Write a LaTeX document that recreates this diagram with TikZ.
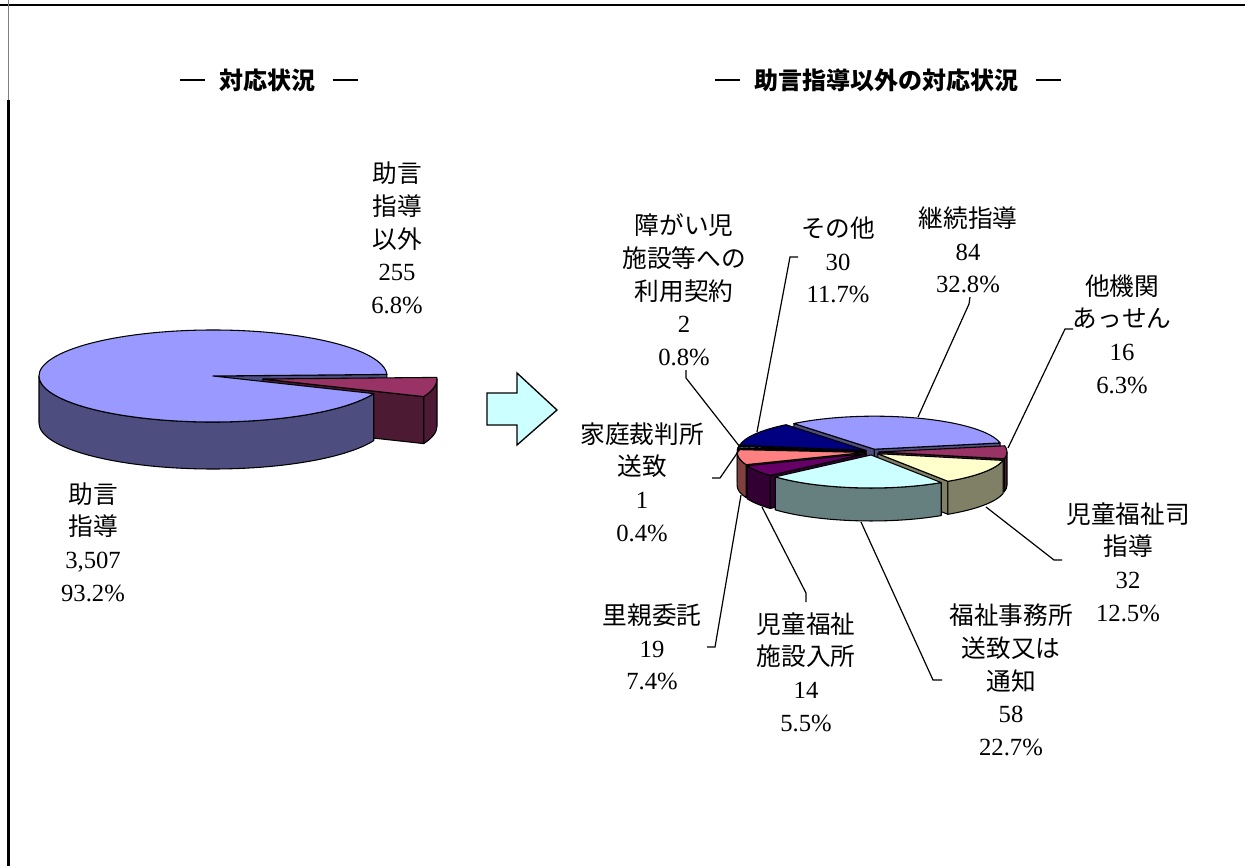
\documentclass[tikz,border=0pt]{standalone}
\usepackage{fontspec}
\setmainfont{Liberation Serif}
\newfontfamily\jp{Noto Sans CJK JP}
\usetikzlibrary{calc}

\definecolor{pieblue}{HTML}{9999FF}   \definecolor{sideblue}{HTML}{4D4D80}
\definecolor{pieplum}{HTML}{993366}   \definecolor{sideplum}{HTML}{4D1A33}
\definecolor{pieyellow}{HTML}{FFFFCC} \definecolor{sideyellow}{HTML}{808066}
\definecolor{piecyan}{HTML}{CCFFFF}   \definecolor{sidecyan}{HTML}{668080}
\definecolor{piepurple}{HTML}{660066} \definecolor{sidepurple}{HTML}{330033}
\definecolor{piesalmon}{HTML}{FF8080} \definecolor{sidesalmon}{HTML}{804040}
\definecolor{pieazure}{HTML}{0066CC}  \definecolor{sideazure}{HTML}{003366}
\definecolor{pielilac}{HTML}{CCCCFF}  \definecolor{sidelilac}{HTML}{666680}
\definecolor{pienavy}{HTML}{000080}   \definecolor{sidenavy}{HTML}{000040}

\newcommand\J[1]{{\jp #1}}
\newcommand\ttlbar{\rule[0.33em]{1.05em}{1.4pt}}
% faces of a 3D pie slice; radii and depth come from \prx, \pry, \pdh
\newcommand\piewall[3]{\filldraw[pie face, fill=#3] (#1) -- ++(xyz polar cs:angle=#2, x radius=\prx, y radius=\pry) -- ++(0,\pdh) -- ($(#1)+(0,\pdh)$) -- cycle;}
\newcommand\pierim[4]{\filldraw[pie face, fill=#4] ($(#1)+(xyz polar cs:angle=#2, x radius=\prx, y radius=\pry)$) arc[start angle=#2, end angle=#3, x radius=\prx, y radius=\pry] -- ++(0,\pdh) arc[start angle=#3, end angle=#2, x radius=\prx, y radius=\pry] -- cycle;}
\newcommand\pietop[4]{\filldraw[pie face, fill=#4] (#1) -- ++(xyz polar cs:angle=#2, x radius=\prx, y radius=\pry) arc[start angle=#2, end angle=#3, x radius=\prx, y radius=\pry] -- cycle;}

\tikzset{
  pie face/.style={draw=black, line width=0.8pt, line join=round},
  lbl/.style={align=center, inner sep=0pt, font=\fontsize{18.5}{24.5}\selectfont},
  heading/.style={inner sep=0pt, font=\jp\bfseries\fontsize{18}{20}\selectfont},
  leader/.style={draw=black, line width=0.9pt},
}

\begin{document}
\begin{tikzpicture}[x=0.75pt, y=-0.75pt]
\useasboundingbox (0,0) rectangle (1245,866);

% frame
\draw[line width=2pt] (0,5) -- (1245,5);
\draw[line width=0.7pt, gray] (8.5,0) -- (8.5,100);
\draw[line width=2pt] (8.5,100) -- (8.5,866);

% headings
\node[heading] (ttlleft) at (269,80) {\ttlbar\hspace{0.6em}対応状況\hspace{0.7em}\ttlbar};
\node[heading] (ttlright) at (888,80) {\ttlbar\hspace{0.6em}助言指導以外の対応状況\hspace{0.7em}\ttlbar};

% left pie
\coordinate (lc) at (213,376);
\coordinate (lm) at ($(lc)+(50,3)$);
\def\prx{174}\def\pry{46}\def\pdh{47}
\piewall{lc}{358}{sideblue}
\piewall{lm}{382.5}{sideplum}
\pierim{lm}{360}{382.5}{sideplum}
\pierim{lc}{22.5}{180}{sideblue}
\pietop{lc}{22.5}{358}{pieblue}
\pietop{lm}{358}{382.5}{pieplum}

\node[lbl] (lother) at (397,238) {\J{助言}\\\J{指導}\\\J{以外}\\255\\6.8\%};
\node[lbl] (lmain) at (93,542) {\J{助言}\\\J{指導}\\3,507\\93.2\%};

% arrow
\filldraw[fill=piecyan, line width=1pt, line join=miter] (487,393) -- (517,393) -- (517,373) -- (557,410)
  -- (517,445) -- (517,425) -- (487,425) -- cycle;

% right pie
\coordinate (rc) at (872,452);
\foreach \n/\m in {1/290.04,2/360.42,3/394.26,4/457.62,5/508.38,6/531.6,7/545.64,8/547.8,9/570.3}
  \coordinate (s\n) at ($(rc)+(xyz polar cs:angle=\m, x radius=7, y radius=3)$);
\def\prx{128}\def\pry{33}\def\pdh{33}
\piewall{s1}{231}{sideblue} \piewall{s1}{349.08}{sideblue} \pietop{s1}{231}{349.08}{pieblue}
\piewall{s9}{549.24}{sidenavy} \pietop{s9}{549.24}{591.36}{pienavy}
\piewall{s8}{546.36}{sidelilac} \pietop{s8}{546.36}{549.24}{pielilac}
\piewall{s7}{544.92}{sideazure} \pietop{s7}{544.92}{546.36}{pieazure}
\piewall{s2}{371.76}{sideplum} \pierim{s2}{360}{371.76}{sideplum} \pietop{s2}{349.08}{371.76}{pieplum}
\piewall{s6}{518.28}{sidesalmon} \pierim{s6}{518.28}{540}{sidesalmon} \pietop{s6}{518.28}{544.92}{piesalmon}
\piewall{s5}{498.48}{sidepurple} \pierim{s5}{498.48}{518.28}{sidepurple} \pietop{s5}{498.48}{518.28}{piepurple}
\piewall{s3}{416.76}{sideyellow} \pierim{s3}{371.76}{416.76}{sideyellow} \pietop{s3}{371.76}{416.76}{pieyellow}
\pierim{s4}{416.76}{498.48}{sidecyan} \pietop{s4}{416.76}{498.48}{piecyan}

% labels
\node[lbl] (lcontract) at (684,290) {\J{障がい児}\\\J{施設等への}\\\J{利用契約}\\2\\0.8\%};
\node[lbl] (lrest) at (838,260) {\J{その他}\\30\\11.7\%};
\node[lbl] (lcont) at (968,250) {\J{継続指導}\\84\\32.8\%};
\node[lbl] (lagency) at (1122,334) {\J{他機関}\\\J{あっせん}\\16\\6.3\%};
\node[lbl] (lcourt) at (642,482) {\J{家庭裁判所}\\\J{送致}\\1\\0.4\%};
\node[lbl] (lguid) at (1128,562) {\J{児童福祉司}\\\J{指導}\\32\\12.5\%};
\node[lbl] (lwelfare) at (1011,680) {\J{福祉事務所}\\\J{送致又は}\\\J{通知}\\58\\22.7\%};
\node[lbl] (lfacility) at (806,672) {\J{児童福祉}\\\J{施設入所}\\14\\5.5\%};
\node[lbl] (lfoster) at (652,647) {\J{里親委託}\\19\\7.4\%};

% leader ends
\coordinate (kcontract) at (686,370); \coordinate (econtract) at (740,447);
\coordinate (krest) at (798,257);     \coordinate (erest) at (757,432);
\coordinate (kcont) at (970,297);     \coordinate (econt) at (918,417);
\coordinate (kagency) at (1073,329);  \coordinate (eagency) at (1008,448);
\coordinate (kcourt) at (712,478);    \coordinate (ecourt) at (740,449);
\coordinate (kguid) at (1062,560);    \coordinate (eguid) at (986,507);
\coordinate (kwelfare) at (942,680);  \coordinate (ewelfare) at (861,522);
\coordinate (kfacility) at (806,602); \coordinate (efacility) at (762,507);
\coordinate (kfoster) at (707,647);   \coordinate (efoster) at (741,495);

\draw[leader] (kcontract) -- ++(0,8) -- (econtract);
\draw[leader] (krest) -- ++(-8,0) -- (erest);
\draw[leader] (kcont) -- ++(-1,7) -- (econt);
\draw[leader] (kagency) -- ++(-8,0) -- (eagency);
\draw[leader] (kcourt) -- ++(8,0) -- (ecourt);
\draw[leader] (kguid) -- ++(-8,0) -- (eguid);
\draw[leader] (kwelfare) -- ++(-9,0) -- (ewelfare);
\draw[leader] (kfacility) -- ++(0,-9) -- (efacility);
\draw[leader] (kfoster) -- ++(8,0) -- (efoster);
\end{tikzpicture}
\end{document}
